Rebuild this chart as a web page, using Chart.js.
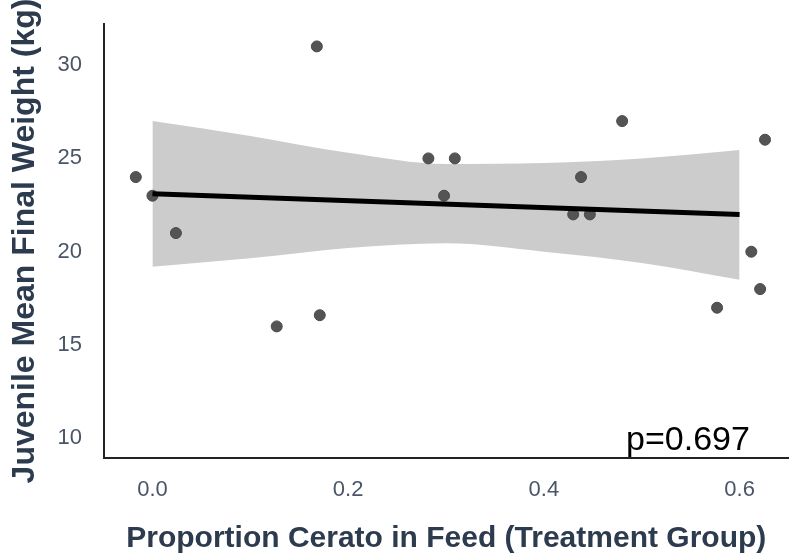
<!DOCTYPE html>
<html>
<head>
<meta charset="utf-8">
<script src="https://cdn.jsdelivr.net/npm/chart.js@4.4.1/dist/chart.umd.min.js"></script>
<style>
  html, body { margin: 0; padding: 0; background: #ffffff; }
  #chart { display: block; }
</style>
</head>
<body>
<canvas id="chart" width="795" height="559"></canvas>
<script>
// Observed points: proportion of Cerato in feed vs juvenile mean final weight (kg)
const feedProportion = [-0.017, 0.0, 0.024, 0.127, 0.168, 0.171, 0.282, 0.298, 0.309, 0.430, 0.438, 0.447, 0.480, 0.577, 0.612, 0.621, 0.626];
const finalWeight = [24, 23, 21, 16, 31, 16.6, 25, 23, 25, 22, 24, 22, 27, 17, 20, 18, 26];

// Linear fit and its confidence band
const fitX = [0.0, 0.6];
const fitY = [23.1, 22.0];
const bandX = [0.0, 0.1, 0.2, 0.3, 0.4, 0.5, 0.6];
const bandUpper = [27.0, 26.2, 25.3, 24.7, 24.75, 25.0, 25.45];
const bandLower = [19.2, 19.65, 20.2, 20.45, 20.0, 19.4, 18.5];

// Axis ticks
const xTicks = [0.0, 0.2, 0.4, 0.6];
const yTicks = [10, 15, 20, 25, 30];

const pLabel = 'p=0.697';
const pLabelX = 0.484;
const pLabelY = 9.37;

const FONT = "'Liberation Sans', Arial, Helvetica, sans-serif";
const toXY = (xs, ys) => xs.map((x, i) => ({ x: x, y: ys[i] }));

// Writes the p-value in the lower right of the plot
const pValuePlugin = {
    id: 'pValue',
    afterDraw(chart) {
        const ctx = chart.ctx;
        const px = chart.scales.x.getPixelForValue(pLabelX);
        const py = chart.scales.y.getPixelForValue(pLabelY);
        ctx.save();
        ctx.font = '34px ' + FONT;
        ctx.fillStyle = '#000000';
        ctx.textAlign = 'left';
        ctx.textBaseline = 'alphabetic';
        ctx.fillText(pLabel, px, py);
        ctx.restore();
    }
};

const config = {
    type: 'scatter',
    data: {
        datasets: [
            {
                label: 'fit',
                data: toXY(fitX, fitY),
                showLine: true,
                borderColor: '#000000',
                borderWidth: 5,
                pointRadius: 0,
                fill: false
            },
            {
                label: 'observed',
                data: toXY(feedProportion, finalWeight),
                backgroundColor: '#545454',
                borderColor: '#4a4a4a',
                borderWidth: 1,
                pointRadius: 5.5,
                pointHoverRadius: 5.5
            },
            {
                label: 'upper',
                data: toXY(bandX, bandUpper),
                showLine: true,
                borderWidth: 0,
                borderColor: 'rgba(0,0,0,0)',
                backgroundColor: '#cccccc',
                pointRadius: 0,
                cubicInterpolationMode: 'monotone',
                fill: '+1'
            },
            {
                label: 'lower',
                data: toXY(bandX, bandLower),
                showLine: true,
                borderWidth: 0,
                borderColor: 'rgba(0,0,0,0)',
                pointRadius: 0,
                cubicInterpolationMode: 'monotone',
                fill: false
            }
        ]
    },
    options: {
        responsive: false,
        animation: false,
        layout: { padding: { top: 24, right: 0, bottom: 0, left: 0 } },
        plugins: {
            legend: { display: false },
            tooltip: { enabled: false }
        },
        scales: {
            x: {
                type: 'linear',
                min: -0.0495,
                max: 0.650,
                afterFit: (scale) => {
                    scale.height = 101;
                    scale.paddingLeft = 0;
                    scale.paddingRight = 0;
                },
                afterBuildTicks: (scale) => { scale.ticks = xTicks.map(v => ({ value: v })); },
                grid: { display: false, drawTicks: false },
                border: { display: true, color: '#222222', width: 2 },
                ticks: {
                    padding: 19,
                    color: '#4a5568',
                    font: { family: FONT, size: 22 },
                    callback: (v) => Number(v).toFixed(1)
                },
                title: {
                    display: true,
                    text: 'Proportion Cerato in Feed (Treatment Group)',
                    color: '#2d3b4e',
                    font: { family: FONT, size: 30, weight: 'bold' },
                    padding: { top: 0, bottom: 2 }
                }
            },
            y: {
                type: 'linear',
                min: 8.95,
                max: 32.2,
                afterFit: (scale) => {
                    scale.width = 104;
                    scale.paddingTop = 0;
                    scale.paddingBottom = 0;
                },
                afterBuildTicks: (scale) => { scale.ticks = yTicks.map(v => ({ value: v })); },
                grid: { display: false, drawTicks: false },
                border: { display: true, color: '#222222', width: 2 },
                ticks: {
                    padding: 22,
                    color: '#4a5568',
                    font: { family: FONT, size: 22 },
                    callback: (v) => String(v)
                },
                title: {
                    display: true,
                    text: 'Juvenile Mean Final Weight (kg)',
                    color: '#2d3b4e',
                    font: { family: FONT, size: 32, weight: 'bold' },
                    padding: { top: 6, bottom: 0 }
                }
            }
        }
    },
    plugins: [pValuePlugin]
};

const chart = new Chart(document.getElementById('chart').getContext('2d'), config);
</script>
</body>
</html>
